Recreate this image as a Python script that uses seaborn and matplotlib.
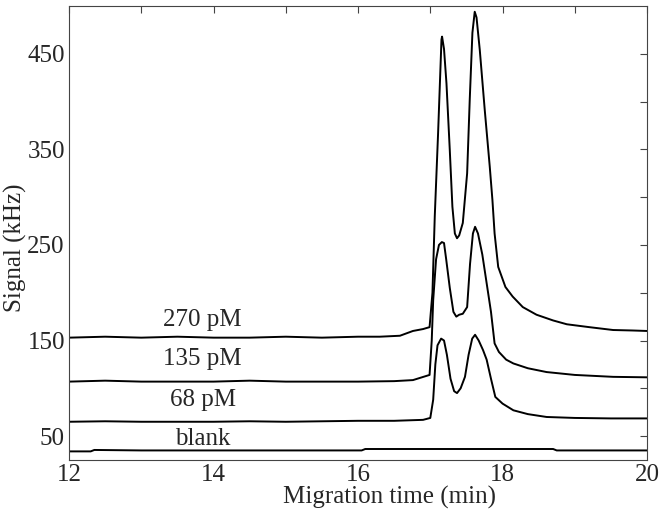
import numpy as np
import pandas as pd
import matplotlib
matplotlib.use("Agg")
import matplotlib.pyplot as plt
import seaborn as sns
from matplotlib.ticker import FixedLocator

# electropherogram traces
t270 = [12.0, 12.5, 13.0, 13.5, 14.0, 14.5, 15.0, 15.5, 16.0, 16.3, 16.58, 16.76, 16.9, 16.99, 17.03,
        17.062, 17.108, 17.155, 17.163, 17.19, 17.224, 17.27, 17.306, 17.34, 17.37, 17.40, 17.45, 17.51,
        17.546, 17.583, 17.615, 17.64, 17.685, 17.754, 17.823, 17.86, 17.89, 17.94, 18.04, 18.14, 18.28,
        18.47, 18.7, 18.89, 19.2, 19.53, 19.8, 20.0]
s270 = [153, 154, 153, 154, 153, 153, 154, 153, 154, 154, 155, 160, 162, 164, 200,
        280, 367, 465, 468, 455, 419, 349, 290, 262, 257, 260, 273, 325,
        402, 472, 494, 488, 454, 391, 332, 297, 262, 227, 206, 196, 185,
        177, 171, 167, 164, 161, 160.5, 160]

t135 = [12.0, 12.5, 13.0, 13.5, 14.0, 14.5, 15.0, 15.5, 16.0, 16.5, 16.76, 16.99, 17.02, 17.04, 17.08,
        17.12, 17.16, 17.19, 17.22, 17.27, 17.32, 17.36, 17.40, 17.45, 17.51, 17.55, 17.59, 17.62, 17.66,
        17.72, 17.78, 17.84, 17.89, 17.95, 18.05, 18.15, 18.35, 18.61, 19.0, 19.53, 20.0]
s135 = [107, 108, 107, 107, 107, 108, 107, 107, 107, 107.5, 108.6, 114, 150, 192, 235,
        250, 253, 252, 235, 205, 180, 175, 177, 178, 185, 230, 262, 269, 262,
        240, 210, 180, 147, 138, 130, 126, 121, 117, 114, 112, 111.5]

t68 = [12.0, 12.5, 13.0, 13.5, 14.0, 14.5, 15.0, 15.5, 16.0, 16.5, 16.9, 17.0, 17.04, 17.07, 17.1,
       17.15, 17.19, 17.23, 17.28, 17.33, 17.37, 17.42, 17.48, 17.53, 17.58, 17.62, 17.67, 17.73, 17.78,
       17.84, 17.9, 18.0, 18.15, 18.35, 18.61, 19.0, 19.5, 20.0]
s68 = [65, 65.5, 65, 65, 65, 65.5, 65, 65.5, 66, 66, 67, 69, 88, 125, 145,
       152, 150, 135, 110, 97, 95, 100, 112, 135, 152, 156, 150, 140, 130,
       110, 91, 84, 77, 73, 70, 69, 68.5, 68.5]

tblank = [12.0, 12.3, 12.35, 13.0, 14.0, 15.0, 16.0, 16.05, 16.1, 17.0, 18.0, 18.7, 18.75, 19.5, 20.0]
sblank = [34, 34, 35.5, 35, 35, 35, 35, 35, 36.5, 36.5, 36.5, 36.5, 35, 35, 35]

labels = ["270 pM", "135 pM", "68 pM", "blank"]
label_y = [171, 130.5, 88, 47]

sns.set_style("white")
plt.rcParams['font.family'] = ['Liberation Serif', 'DejaVu Serif']

fig = plt.figure(figsize=(6.65, 5.19), dpi=100)
ax = fig.add_axes([0.1038, 0.1137, 0.8692, 0.8747])

for t, s in [(t270, s270), (t135, s135), (t68, s68), (tblank, sblank)]:
    df = pd.DataFrame({"t": t, "s": s})
    sns.lineplot(data=df, x="t", y="s", ax=ax, color="black", lw=1.4, estimator=None, sort=False)

for lab, y in zip(labels, label_y):
    ax.text(13.85, y, lab, ha="center", va="center", fontsize=18)

ax.set_xlim(12, 20)
ax.set_ylim(25, 500)
ax.xaxis.set_major_locator(FixedLocator([12, 14, 16, 18, 20]))
ax.xaxis.set_minor_locator(FixedLocator([13, 15, 17, 19]))
ax.yaxis.set_major_locator(FixedLocator([50, 150, 250, 350, 450]))
ax.yaxis.set_minor_locator(FixedLocator([100, 200, 300, 400]))
ax.tick_params(which="both", direction="in", length=5, width=0.8, top=True, right=True,
               labelsize=18, color="#444444", pad=3)
for sp in ax.spines.values():
    sp.set_color("#444444")
    sp.set_linewidth(0.8)

ax.set_xlabel("Migration time (min)", fontsize=18)
ax.set_ylabel("Signal (kHz)", fontsize=18)
ax.xaxis.set_label_coords(0.555, -0.058)
ax.yaxis.set_label_coords(-0.073, 0.467)

fig.savefig("out.png", dpi=100)
